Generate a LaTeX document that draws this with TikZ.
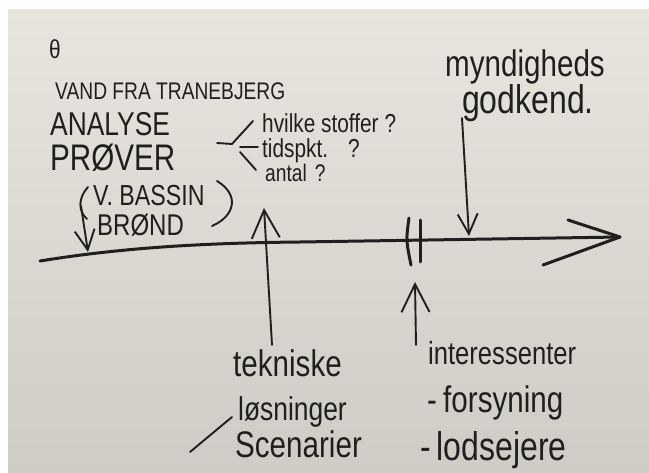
\documentclass[tikz,border=0pt]{standalone}
\usepackage{fontspec}
\setmainfont{Liberation Sans}
\newfontfamily\handfont[FakeStretch=0.8]{Liberation Sans}
\usepackage{tikz}
\usetikzlibrary{arrows.meta,positioning}
\definecolor{ink}{HTML}{1F1F1F}
\definecolor{paperhi}{HTML}{E8E4DE}
\definecolor{paperlo}{HTML}{CFCCC6}
\newcommand{\hw}[1]{\handfont\fontsize{#1}{#1}\selectfont}
\tikzset{
  hand/.style={text=ink, inner sep=0pt, anchor=base west, font=\hw{#1}},
  caps/.style={text depth=0pt},
  pen/.style={draw=ink, line width=1.9pt, line cap=round, line join=round},
  fatpen/.style={draw=ink, line width=3pt, line cap=round, line join=round},
  barb/.style={-{Straight Barb[length=#1, width=#1]}}
}

\begin{document}
\begin{tikzpicture}[x=1pt, y=-1pt]
      \useasboundingbox (0,0) rectangle (649,473);
      \fill[white] (0,0) rectangle (649,473);
      \shade[top color=paperhi, bottom color=paperlo] (8,10) rectangle (649,473);
      % texts, top left
      \node[hand=26] at (49,59) (theta) {θ};
      \node[hand=24, caps] at (55,100) (vand) {VAND FRA TRANEBJERG};
      \node[hand=33, caps, text height=24pt] at (50,136) (analyse) {ANALYSE};
      \node[hand=37, caps, text height=27pt] at (50,171) (prover) {PRØVER};
      \node[hand=29, caps, text height=21pt] at (93,206) (bassin) {V. BASSIN};
      \node[hand=30, caps, text height=21pt] at (97,236) (brond) {BRØND};
      \node[hand=26, text depth=0pt] at (262,133) (hvilke) {hvilke stoffer\hspace{6pt}?};
      \node[hand=26, text height=17pt, text depth=3pt] at (262,158) (tidspkt) {tidspkt.\hspace{20pt}?};
      \node[hand=24, text height=15pt] at (265,182) (antal) {antal\hspace{8pt}?};
      % texts, top right
      \node[hand=37] at (445,77) (myndig) {myndigheds};
      \node[hand=40, text height=24pt] at (462,114) (godkend) {godkend.};
      % texts, bottom
      \node[hand=37, text depth=0pt] at (233,377) (tekniske) {tekniske};
      \node[hand=33, text height=19pt, text depth=4pt] at (238,421) (losninger) {løsninger};
      \node[hand=37, text height=24pt] at (235,457) (scenarier) {Scenarier};
      \node[hand=32, text depth=0pt] at (428,365) (interes) {interessenter};
      \node[hand=37, text depth=4pt] at (427,413) (forsyning) {-\,forsyning};
      \node[hand=40, text height=26pt] at (420,461) (lodsejere) {-\hspace{6pt}lodsejere};
      % timeline
      \coordinate (tstart) at (40,261);
      \coordinate (tend) at (620,237);
      \coordinate (headup) at (568,220);
      \coordinate (headlow) at (543,265);
      \draw[fatpen] (tstart) .. controls (120,248) and (200,243) .. (300,242) -- (tend);
      \draw[fatpen] (headup) -- (tend) -- (headlow);
      \draw[fatpen] (409,218) .. controls (406,240) .. (411,265);
      \draw[fatpen] (420,220) -- (420,262);
      % fork after PROVER
      \coordinate (fork) at (232,144);
      \draw[pen] (217,143) -- (fork) -- (253,121);
      \draw[pen] (240,147) -- (258,147);
      \draw[pen] (240,152) -- (256,170);
      % brackets round V. BASSIN / BROND
      \draw[pen] (88,187) .. controls (78,198) and (78,211) .. (87,219);
      \draw[pen] (217,181) .. controls (240,195) and (235,216) .. (212,226);
      % arrows
      \coordinate (tleft) at (88,252);
      \coordinate (tmynd) at (469,236);
      \coordinate (tektip) at (264,208);
      \coordinate (intertip) at (415,282);
      \draw[pen, barb=20pt] (81,206) -- (tleft);
      \draw[pen, barb=20pt] (462,118) -- (tmynd);
      \draw[pen, barb=28pt] (272,345) -- (tektip);
      \draw[pen, barb=28pt] (416,345) -- (intertip);
      % stray stroke
      \coordinate (slashlow) at (190,452);
      \coordinate (slashhigh) at (232,417);
      \draw[pen] (slashlow) -- (slashhigh);
\end{tikzpicture}
\end{document}
